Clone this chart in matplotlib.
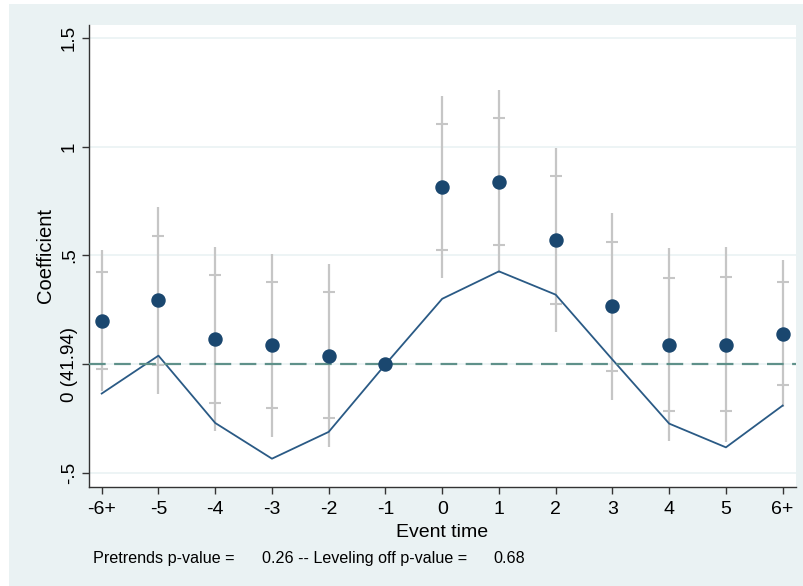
import numpy as np
import matplotlib
matplotlib.use("Agg")
import matplotlib.pyplot as plt
from matplotlib.patches import Rectangle

plt.rcParams['font.family'] = ['Liberation Sans', 'DejaVu Sans']

# datos
labels = ['-6+', '-5', '-4', '-3', '-2', '-1', '0', '1', '2', '3', '4', '5', '6+']
event_time = np.arange(-6, 7)
coef = [0.200, 0.294, 0.117, 0.087, 0.040, 0.0, 0.815, 0.839, 0.571, 0.266, 0.090, 0.090, 0.141]
ci_out_lo = [-0.121, -0.134, -0.307, -0.332, -0.380, np.nan, 0.397, 0.419, 0.147, -0.162, -0.352, -0.356, -0.198]
ci_out_hi = [0.523, 0.722, 0.541, 0.506, 0.460, np.nan, 1.233, 1.259, 0.995, 0.694, 0.532, 0.537, 0.480]
ci_in_lo = [-0.021, -0.001, -0.176, -0.202, -0.246, np.nan, 0.526, 0.548, 0.278, -0.031, -0.216, -0.214, -0.093]
ci_in_hi = [0.425, 0.589, 0.410, 0.376, 0.330, np.nan, 1.104, 1.130, 0.864, 0.563, 0.396, 0.399, 0.376]
trend = [-0.134, 0.040, -0.269, -0.433, -0.310, 0.0, 0.301, 0.427, 0.320, 0.022, -0.272, -0.381, -0.189]
yticks = [-0.5, 0, 0.5, 1, 1.5]
ytick_labels = ['-.5', '0 (41.94)', '.5', '1', '1.5']
pre_p = 0.26
lev_p = 0.68

W, H = 804, 586
fig = plt.figure(figsize=(W / 100, H / 100), dpi=100, facecolor='white')
# fondo tipo Stata
fig.patches.append(Rectangle((9 / W, 0), 1 - 9 / W, 1 - 4 / H, transform=fig.transFigure,
                             facecolor='#eaf2f3', edgecolor='none', zorder=-10))

ax = fig.add_axes([89 / W, 1 - 487 / H, (796 - 89) / W, (487 - 25) / H])
ax.set_facecolor('white')

gray = '#c6c6c6'
navy = '#1a476f'

# intervalos
ax.vlines(event_time, ci_out_lo, ci_out_hi, color=gray, lw=1.6, zorder=2)
ax.plot(event_time, ci_in_lo, ls='none', marker='_', ms=8.6, mew=1.5, color=gray, zorder=2)
ax.plot(event_time, ci_in_hi, ls='none', marker='_', ms=8.6, mew=1.5, color=gray, zorder=2)

ax.plot(event_time, trend, color='#2a5a85', lw=1.3, zorder=3)
ax.axhline(0, color='#5f918a', lw=1.6, ls=(0, (7.5, 3.8)), zorder=3)
ax.plot(event_time, coef, ls='none', marker='o', ms=9.4, color=navy, mec=navy, zorder=4)

ax.set_xlim(-6.224, 6.235)
ax.set_ylim(-0.563, 1.558)

for y in yticks:
    ax.axhline(y, color='#eaf2f3', lw=1.2, zorder=0)

ax.set_xticks(event_time)
ax.set_xticklabels(labels, fontsize=14)
ax.set_yticks(yticks)
ax.set_yticklabels(ytick_labels, fontsize=13.5, rotation=90, va='center')
ax.tick_params(axis='both', length=5, width=1, color='#333333')
ax.tick_params(axis='x', pad=5)
ax.tick_params(axis='y', pad=3)

for s in ['top', 'right']:
    ax.spines[s].set_visible(False)
for s in ['left', 'bottom']:
    ax.spines[s].set_color('#333333')
    ax.spines[s].set_linewidth(1)

fig.text(442.5 / W, 1 - 536.7 / H, 'Event time', fontsize=14, ha='center', va='baseline')
fig.text(45.8 / W, 1 - 255.5 / H, 'Coefficient', fontsize=14.5, ha='center', va='center', rotation=90)

ny = 1 - 563.3 / H
fig.text(93 / W, ny, 'Pretrends p-value =', fontsize=11.6, ha='left', va='baseline')
fig.text(262 / W, ny, '%.2f -- Leveling off p-value =' % pre_p, fontsize=11.6, ha='left', va='baseline')
fig.text(493 / W, ny, '%.2f' % lev_p, fontsize=11.6, ha='left', va='baseline')

plt.savefig('out.png', dpi=100, facecolor=fig.get_facecolor())
